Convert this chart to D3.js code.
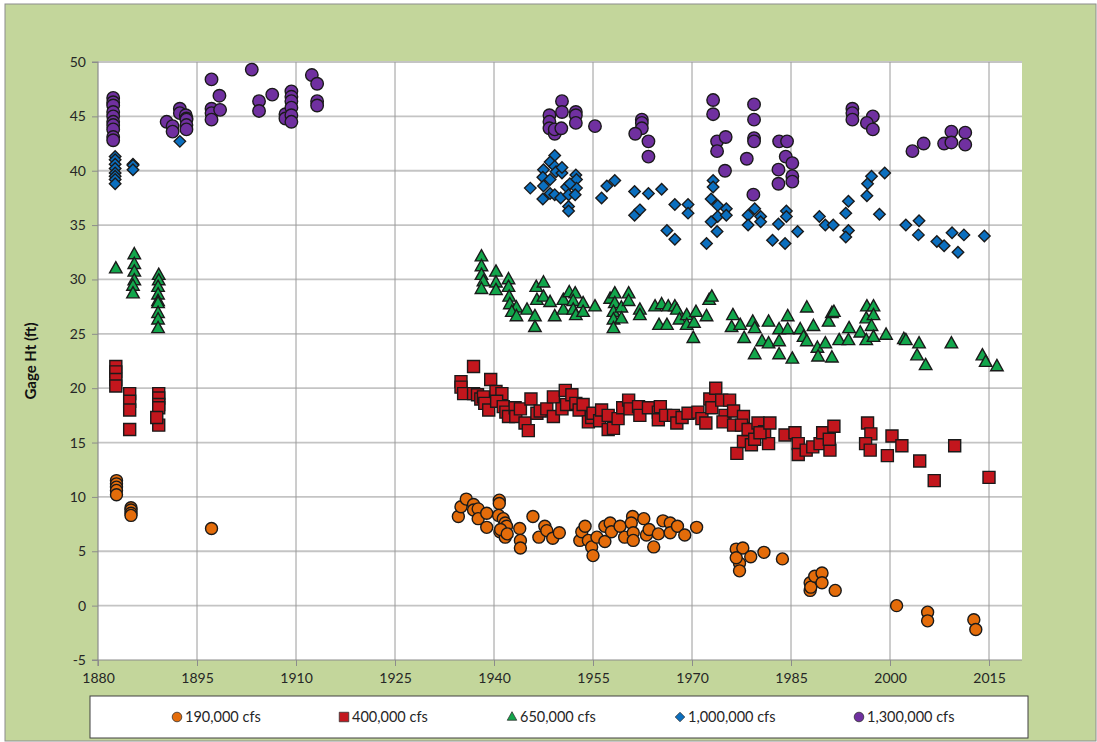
<!DOCTYPE html>
<html>
<head>
<meta charset="utf-8">
<script src="https://cdn.jsdelivr.net/npm/d3@7"></script>
<style>
  html, body { margin: 0; padding: 0; background: #ffffff; }
  svg { display: block; }
  text { font-family: Lato, "Open Sans", "DejaVu Sans", sans-serif; }
</style>
</head>
<body>
<svg id="chart" width="1097" height="742"></svg>
<script>
// ---------------- DATA ----------------
const xTicks = [1880, 1895, 1910, 1925, 1940, 1955, 1970, 1985, 2000, 2015];
const yTicks = [-5, 0, 5, 10, 15, 20, 25, 30, 35, 40, 45, 50];
const seriesNames = ["190,000 cfs", "400,000 cfs", "650,000 cfs", "1,000,000 cfs", "1,300,000 cfs"];

// [year, gage height ft]
const s190 = [
  [1882.8,11.5],[1882.8,11.2],[1882.8,10.9],[1882.8,10.6],[1882.8,10.2],
  [1885.0,9.0],[1885.0,8.8],[1885.0,8.5],[1885.0,8.3],
  [1897.2,7.1],
  [1934.6,8.2],[1935.0,9.1],[1935.8,9.8],[1936.9,9.3],[1936.9,8.8],[1937.6,8.9],[1937.6,8.0],
  [1938.9,8.5],[1938.9,7.2],[1940.8,9.7],[1940.8,9.4],[1940.7,8.3],[1941.4,8.0],[1941.7,7.6],
  [1941.9,7.3],[1940.9,6.8],[1941.7,6.3],[1941.0,7.0],[1942.0,6.6],[1943.9,7.1],[1944.0,6.0],[1944.0,5.3],
  [1945.9,8.2],[1946.8,6.3],[1947.7,7.3],[1948.0,6.9],[1948.9,6.2],[1949.9,6.7],[1953.0,6.0],
  [1953.3,6.8],[1953.8,7.3],[1954.3,6.0],[1954.8,5.4],[1955.0,4.6],[1955.6,6.3],[1956.8,7.3],
  [1956.8,5.9],[1957.6,7.6],[1957.8,6.8],[1959.1,7.3],[1959.8,6.3],[1961.0,8.2],[1960.8,7.6],
  [1961.1,6.7],[1961.1,6.0],[1962.7,8.0],[1963.1,6.5],[1964.2,5.4],[1963.5,7.0],[1964.9,6.6],
  [1965.6,7.8],[1966.7,7.6],[1966.7,6.7],[1967.8,7.3],[1968.9,6.5],[1970.7,7.2],
  [1976.7,5.2],[1977.7,5.3],[1977.2,3.9],[1977.2,3.2],[1976.7,4.4],[1978.9,4.5],[1980.9,4.9],
  [1983.7,4.3],[1987.9,2.1],[1987.9,1.4],[1988.0,1.7],[1988.6,2.7],[1989.7,3.0],[1989.7,2.1],
  [1991.7,1.4],[2001.0,0.0],[2005.7,-0.6],[2005.7,-1.4],[2012.7,-1.3],[2013.0,-2.2]
];

const s400 = [
  [1882.7,22.0],[1882.7,21.5],[1882.7,20.8],[1882.7,20.2],
  [1884.8,19.5],[1884.8,18.8],[1884.8,18.0],[1884.8,16.2],
  [1889.2,19.5],[1889.2,19.1],[1889.2,18.5],[1889.2,18.2],[1889.2,16.6],[1888.9,17.3],
  [1935.0,20.6],[1935.0,20.1],[1936.9,22.0],[1935.4,19.5],[1936.9,19.5],[1937.5,19.4],[1938.0,19.0],
  [1938.4,19.2],[1938.6,18.6],[1939.5,20.8],[1939.2,18.0],[1940.3,19.7],[1941.2,19.5],[1940.4,18.8],
  [1941.4,18.3],[1941.8,17.8],[1942.2,17.4],[1943.2,18.2],[1943.3,17.4],[1944.0,18.1],[1944.7,16.8],
  [1945.2,16.1],[1945.6,19.0],[1946.5,17.7],[1947.0,17.9],[1948.0,18.1],[1949.0,19.2],[1949.0,17.4],
  [1950.3,18.1],[1950.8,19.8],[1951.0,18.5],[1951.8,19.4],[1952.4,18.6],[1952.9,18.0],[1953.5,18.5],
  [1954.3,16.9],[1954.8,17.3],[1955.0,17.7],[1956.0,17.0],[1956.3,18.0],[1957.3,17.5],[1957.3,16.2],
  [1958.1,16.3],[1958.8,17.2],[1959.5,18.2],[1960.4,18.9],[1960.6,18.1],[1961.9,18.3],[1962.1,17.5],
  [1963.4,18.2],[1964.9,17.8],[1965.2,18.3],[1964.9,17.1],[1966.0,17.5],[1967.2,17.5],[1967.7,16.8],
  [1968.5,17.3],[1969.4,17.7],[1970.9,17.8],[1971.5,17.2],[1972.1,16.8],[1972.7,19.0],[1973.6,20.0],
  [1973.0,18.2],[1974.5,18.9],[1975.0,17.5],[1975.7,18.9],[1974.7,16.9],[1976.3,17.9],[1976.3,16.6],
  [1977.8,17.4],[1977.5,16.6],[1976.8,14.0],[1977.8,15.1],[1978.5,16.2],[1979.0,14.8],[1979.5,15.3],
  [1980.0,16.8],[1981.0,16.0],[1981.6,14.9],[1980.3,15.9],[1981.8,16.8],[1984.1,15.7],[1985.6,15.9],
  [1986.1,14.9],[1986.1,13.9],[1987.3,14.3],[1988.3,14.6],[1989.4,14.9],[1989.8,15.9],[1990.9,14.3],
  [1991.5,16.5],[1990.8,15.3],[1996.6,16.8],[1997.1,15.8],[1996.3,14.9],[1997.0,14.3],[2000.3,15.6],
  [2001.8,14.7],[1999.6,13.8],[2004.5,13.3],[2006.7,11.5],[2009.8,14.7],[2015.0,11.8]
];

const s650 = [
  [1882.7,31.0],[1885.5,32.3],[1885.5,31.4],[1885.5,30.7],[1885.5,29.9],[1885.3,29.4],[1885.3,28.7],
  [1889.2,30.4],[1889.2,29.9],[1889.1,29.3],[1889.1,28.6],[1889.1,28.0],[1889.1,27.8],[1889.1,26.9],
  [1889.1,26.3],[1889.1,25.5],
  [1938.1,32.1],[1938.1,31.2],[1938.1,30.4],[1938.4,29.8],[1938.1,29.1],[1940.3,30.7],[1940.3,29.7],
  [1940.3,29.0],[1942.2,30.0],[1942.2,29.3],[1942.3,28.4],[1942.4,27.7],[1943.4,27.4],[1942.7,27.0],
  [1943.4,26.6],[1945.0,27.2],[1946.2,26.6],[1946.2,25.6],[1946.5,28.1],[1946.4,29.3],[1947.5,29.7],
  [1947.5,28.4],[1948.5,27.9],[1949.2,26.6],[1950.5,27.2],[1950.5,28.1],[1951.4,28.8],[1952.3,28.7],
  [1952.0,28.0],[1952.0,27.2],[1952.4,26.7],[1953.5,27.8],[1953.5,27.0],[1955.3,27.5],[1957.6,28.2],
  [1958.3,28.7],[1958.3,27.8],[1958.1,27.0],[1958.1,26.3],[1958.1,25.5],[1959.3,27.4],[1959.3,26.4],
  [1960.4,28.7],[1960.4,28.0],[1962.1,27.2],[1962.1,26.7],[1964.4,27.5],[1965.4,27.7],[1965.0,25.8],
  [1966.4,27.5],[1966.2,25.8],[1967.4,27.5],[1967.7,27.2],[1968.1,26.3],[1969.2,26.7],[1969.2,25.8],
  [1970.3,26.0],[1970.2,24.6],[1970.6,27.0],[1972.2,26.6],[1972.6,28.1],[1973.0,28.4],
  [1976.2,26.7],[1976.0,25.6],[1977.3,25.8],[1977.9,24.6],[1979.2,26.1],[1979.5,25.5],[1979.5,23.1],
  [1980.6,24.3],[1981.6,26.1],[1981.6,24.1],[1983.2,25.4],[1983.2,24.3],[1983.2,23.1],[1984.5,26.6],
  [1984.5,25.4],[1985.2,22.7],[1986.4,25.4],[1986.9,24.7],[1987.4,27.4],[1987.4,24.3],[1988.4,25.7],
  [1989.0,23.7],[1989.1,22.9],[1990.2,24.1],[1990.7,26.1],[1991.2,26.9],[1991.5,27.0],[1991.2,22.8],
  [1992.3,24.4],[1993.7,24.4],[1993.8,25.5],[1995.5,25.1],[1996.5,27.5],[1997.5,27.5],[1996.4,26.4],
  [1997.5,26.7],[1997.2,25.7],[1996.4,24.4],[1997.5,24.7],[1999.4,24.9],[2002.1,24.5],[2002.4,24.4],
  [2004.4,24.1],[2004.1,23.0],[2005.4,22.1],[2009.3,24.1],[2014.0,23.0],[2014.5,22.4],[2016.2,22.0]
];

const s1000 = [
  [1882.6,41.3],[1882.6,41.0],[1882.6,40.6],[1882.6,40.2],[1882.6,39.8],[1882.6,39.5],[1882.6,39.2],
  [1882.6,38.8],[1885.3,40.6],[1885.3,40.5],[1885.3,40.1],[1892.4,42.7],
  [1945.5,38.4],[1949.2,41.4],[1948.5,40.8],[1947.5,40.1],[1947.4,39.4],[1948.5,39.2],[1947.5,38.6],
  [1947.4,37.4],[1948.5,37.9],[1949.2,40.4],[1949.4,39.9],[1950.3,39.8],[1950.3,40.3],[1949.2,37.8],
  [1950.1,37.5],[1951.0,38.5],[1951.3,37.8],[1951.3,36.7],[1951.3,36.3],[1952.4,39.6],[1952.5,39.2],
  [1952.5,38.4],[1952.3,37.8],[1951.5,38.8],[1956.3,37.5],[1957.1,38.6],[1958.3,39.1],[1961.3,38.1],
  [1961.3,35.9],[1962.1,36.4],[1963.4,37.9],[1965.4,38.3],[1966.2,34.5],[1967.4,36.9],[1967.4,33.7],
  [1969.4,36.9],[1969.4,36.1],[1972.2,33.3],[1973.2,39.1],[1973.2,38.5],[1972.9,37.4],[1973.9,36.8],
  [1973.9,35.8],[1972.9,35.3],[1973.8,34.4],[1975.2,36.5],[1975.2,35.9],[1978.5,35.9],[1978.5,35.0],
  [1979.5,36.5],[1980.4,35.8],[1980.4,35.3],[1982.2,33.6],[1983.1,35.1],[1984.1,33.3],[1984.3,36.3],
  [1984.3,35.8],[1986.0,34.4],[1989.3,35.8],[1990.2,35.0],[1991.4,35.0],[1993.3,36.1],[1993.7,37.2],
  [1993.7,34.5],[1993.3,33.9],[1996.5,37.7],[1996.6,38.8],[1997.2,39.5],[1998.4,36.0],[1999.2,39.8],
  [2002.4,35.0],[2004.4,35.4],[2004.3,34.1],[2007.1,33.5],[2008.2,33.1],[2009.4,34.3],[2010.3,32.5],
  [2011.2,34.1],[2014.3,34.0]
];

const s1300 = [
  [1882.3,46.7],[1882.3,46.3],[1882.3,46.0],[1882.3,45.4],[1882.3,45.0],[1882.3,44.5],[1882.3,44.2],
  [1882.3,43.8],[1882.3,43.1],[1882.3,42.8],
  [1890.4,44.5],[1891.3,44.1],[1891.3,43.6],[1892.4,45.7],[1892.4,45.3],[1893.3,45.1],[1893.4,44.8],
  [1893.4,44.7],[1893.4,44.2],[1893.4,43.8],
  [1897.2,48.4],[1897.2,45.7],[1897.2,45.3],[1897.2,44.7],[1898.4,46.9],[1898.5,45.6],[1903.3,49.3],
  [1904.4,46.4],[1904.4,45.5],[1906.4,47.0],[1908.4,45.2],[1908.4,44.8],[1909.3,47.3],[1909.3,46.8],
  [1909.3,46.4],[1909.3,45.8],[1909.3,45.1],[1909.3,44.5],[1912.4,48.8],[1913.2,48.0],[1913.2,46.4],
  [1913.2,46.0],
  [1948.4,45.1],[1948.4,44.5],[1948.4,43.9],[1949.2,43.4],[1949.2,43.8],[1950.3,46.4],[1950.3,45.4],
  [1950.2,43.9],[1952.4,45.4],[1952.4,45.1],[1952.4,44.4],[1955.3,44.1],[1962.4,44.7],[1962.4,44.4],
  [1962.4,43.9],[1961.4,43.4],[1963.4,42.7],[1963.4,41.3],[1973.2,46.5],[1973.2,45.2],[1973.8,42.7],
  [1973.8,41.8],[1975.1,43.1],[1975.0,40.0],[1978.3,41.1],[1979.4,46.1],[1979.4,44.7],[1979.4,43.0],
  [1979.4,42.7],[1979.3,37.8],[1983.2,42.7],[1984.4,42.7],[1984.2,41.3],[1985.2,40.7],[1985.2,39.5],
  [1985.2,39.0],[1983.1,40.1],[1983.1,38.8],[1994.3,45.7],[1994.3,45.3],[1994.3,44.7],[1997.4,45.0],
  [1996.5,44.4],[1997.4,43.8],[2003.4,41.8],[2005.1,42.5],[2008.2,42.5],[2009.3,43.6],[2009.3,42.6],
  [2011.4,43.5],[2011.4,42.4]
];

// ---------------- CHART ----------------
const W = 1097, H = 742;
const plot = { left: 98, right: 1022, top: 62, bottom: 660 };
const svg = d3.select("#chart");

// outer chart background
svg.append("rect").attr("x", 5).attr("y", 4).attr("width", W - 6).attr("height", H - 5)
  .attr("fill", "#c3d69b").attr("stroke", "#8c8c8c").attr("stroke-width", 1);

// plot area
svg.append("rect").attr("x", plot.left).attr("y", plot.top)
  .attr("width", plot.right - plot.left).attr("height", plot.bottom - plot.top)
  .attr("fill", "#ffffff");

const x = d3.scaleLinear().domain([1880, 2020]).range([plot.left, plot.right]);
const y = d3.scaleLinear().domain([-5, 50]).range([plot.bottom, plot.top]);

// gridlines
svg.append("g").selectAll("line").data(yTicks.filter(v => v > -5)).join("line")
  .attr("x1", plot.left).attr("x2", plot.right)
  .attr("y1", d => y(d)).attr("y2", d => y(d))
  .attr("stroke", "#c4c4c4").attr("stroke-width", 1.8);
svg.append("g").selectAll("line").data(xTicks.filter(v => v > 1880)).join("line")
  .attr("x1", d => x(d)).attr("x2", d => x(d))
  .attr("y1", plot.top).attr("y2", plot.bottom)
  .attr("stroke", "#9a9a9a").attr("stroke-width", 1);

// axes
const plainFmt = d => String(d);
const yAxis = d3.axisLeft(y).tickValues(yTicks).tickSize(6).tickPadding(6).tickFormat(plainFmt);
const gy = svg.append("g").attr("transform", `translate(${plot.left},0)`).call(yAxis);
const xAxis = d3.axisBottom(x).tickValues(xTicks).tickSize(6).tickPadding(7).tickFormat(plainFmt);
const gx = svg.append("g").attr("transform", `translate(0,${plot.bottom})`).call(xAxis);
[gx, gy].forEach(g => {
  g.attr("font-family", null).attr("font-size", null);
  g.select(".domain").attr("stroke", "#8c8c8c").attr("stroke-width", 1.2);
  g.selectAll(".tick line").attr("stroke", "#8c8c8c");
  g.selectAll(".tick text").attr("fill", "#262626").style("font-size", "14px")
    .style("font-family", "Lato, 'Open Sans', sans-serif");
});
gy.select(".domain").attr("d", `M-6,${plot.top}H0V${plot.bottom}H-6`);
gx.select(".domain").attr("d", `M${plot.left},6V0H${plot.right}`);

// y axis title
svg.append("text")
  .attr("transform", `translate(36,${(plot.top + plot.bottom) / 2}) rotate(-90)`)
  .attr("text-anchor", "middle")
  .style("font-size", "15px").style("font-weight", "bold").attr("fill", "#111")
  .text("Gage Ht (ft)");

// marker shapes
function markerPath(type, s) {
  const h = s / 2;
  if (type === "square") return `M${-h},${-h}H${h}V${h}H${-h}Z`;
  if (type === "triangle") { const th = s * 0.9; return `M0,${-th * 0.62}L${h},${th * 0.38}L${-h},${th * 0.38}Z`; }
  if (type === "diamond") return `M0,${-h}L${h},0L0,${h}L${-h},0Z`;
  return null;
}

const series = [
  { name: seriesNames[0], data: s190, type: "circle", color: "#e46c0a", size: 12 },
  { name: seriesNames[1], data: s400, type: "square", color: "#c3161d", size: 12 },
  { name: seriesNames[2], data: s650, type: "triangle", color: "#12a64b", size: 12.5 },
  { name: seriesNames[3], data: s1000, type: "diamond", color: "#0b6fbf", size: 11.5 },
  { name: seriesNames[4], data: s1300, type: "circle", color: "#7030a0", size: 12.5 }
];

const marks = svg.append("g");
series.forEach(s => {
  const g = marks.append("g");
  if (s.type === "circle") {
    g.selectAll("circle").data(s.data).join("circle")
      .attr("cx", d => x(d[0])).attr("cy", d => y(d[1])).attr("r", s.size / 2)
      .attr("fill", s.color).attr("stroke", "#1a1a1a").attr("stroke-width", 1.4);
  } else {
    g.selectAll("path").data(s.data).join("path")
      .attr("transform", d => `translate(${x(d[0])},${y(d[1])})`)
      .attr("d", markerPath(s.type, s.size))
      .attr("fill", s.color).attr("stroke", "#1a1a1a").attr("stroke-width", 1.4);
  }
});

// legend
const legend = svg.append("g");
legend.append("rect").attr("x", 90).attr("y", 696).attr("width", 938).attr("height", 42)
  .attr("fill", "#ffffff").attr("stroke", "#404040").attr("stroke-width", 1);
const legendX = [177, 344, 512, 680, 859];
series.forEach((s, i) => {
  const gi = legend.append("g").attr("transform", `translate(${legendX[i]},717)`);
  if (s.type === "circle") {
    gi.append("circle").attr("r", 4.8).attr("fill", s.color).attr("stroke", "#333").attr("stroke-width", 0.8);
  } else {
    gi.append("path").attr("d", markerPath(s.type, 9.5)).attr("fill", s.color)
      .attr("stroke", "#333").attr("stroke-width", 0.8);
  }
  gi.append("text").attr("x", 8).attr("dy", "0.35em")
    .style("font-size", "14.5px").attr("fill", "#262626").text(s.name);
});
</script>
</body>
</html>
